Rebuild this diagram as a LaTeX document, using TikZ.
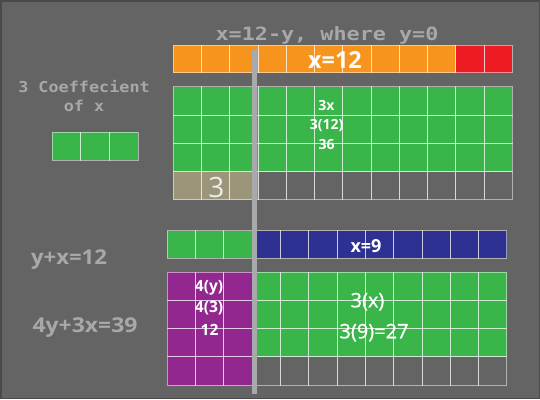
\documentclass[tikz,border=0pt]{standalone}
\usepackage{fontspec}
\setmainfont{Open Sans}
\newfontfamily\monob{DejaVu Sans Mono}
\newfontfamily\osmed[FakeBold=0.8]{Open Sans}
\definecolor{bgc}{HTML}{646464}
\definecolor{framec}{HTML}{4A4A4A}
\definecolor{orangec}{HTML}{F7941D}
\definecolor{redc}{HTML}{ED1C24}
\definecolor{greenc}{HTML}{39B54A}
\definecolor{bluec}{HTML}{2E3192}
\definecolor{purplec}{HTML}{92278F}
\definecolor{tanc}{HTML}{9B9579}
\definecolor{linegray}{HTML}{A7A9AC}
\definecolor{textgray}{HTML}{A8A8A8}
\begin{document}
\begin{tikzpicture}[x=1pt,y=-1pt,
  cell/.style={draw=white,draw opacity=0.5,line width=1pt},
  graytxt/.style={text=textgray,anchor=base,inner sep=0pt},
  whitetxt/.style={text=white,anchor=base,inner sep=0pt}]
\useasboundingbox (0,0) rectangle (540,399);
\fill[bgc] (0,0) rectangle (540,399);
\draw[framec,line width=1.5pt] (0.75,0.75) rectangle (539.25,398.25);

% top orange bar
\fill[orangec] (173.3,45) rectangle (512.3,72.7);
\fill[redc] (455.8,45) rectangle (512.3,72.7);
\foreach \i in {0,...,11} \draw[cell] ({173.3+\i*28.25},45) rectangle ++(28.25,27.7);

% top green block
\fill[greenc] (173.3,86.7) rectangle (512.3,171.6);
\fill[tanc] (173.3,171.6) rectangle (258.05,199.9);
\foreach \i in {0,...,11} \foreach \j in {0,...,3}
  \draw[cell] ({173.3+\i*28.25},{86.7+\j*28.3}) rectangle ++(28.25,28.3);

% left small bar
\fill[greenc] (52,132.3) rectangle (138,160);
\foreach \i in {0,1,2} \draw[cell] ({52+\i*28.67},132.3) rectangle ++(28.67,27.7);

% bottom bar
\fill[greenc] (167.3,230.7) rectangle (252.2,258.3);
\fill[bluec] (252.2,230.7) rectangle (506.9,258.3);
\foreach \i in {0,...,11} \draw[cell] ({167.3+\i*28.3},230.7) rectangle ++(28.3,27.6);

% bottom block
\fill[purplec] (167.3,272) rectangle (252.2,385.2);
\fill[greenc] (252.2,272) rectangle (506.9,356.9);
\foreach \i in {0,...,11} \foreach \j in {0,...,3}
  \draw[cell] ({167.3+\i*28.3},{272+\j*28.3}) rectangle ++(28.3,28.3);

% vertical divider
\coordinate (vtop) at (254.5,50);
\coordinate (vbot) at (254.5,394);
\draw[linegray,line width=5pt] (vtop) -- (vbot);

% texts
\node[graytxt,font={\monob\bfseries\fontsize{18.3}{20}\selectfont}] (title) at (327,40) {\scalebox{1.19}[1]{x=12-y, where y=0}};
\node[graytxt,font={\monob\bfseries\fontsize{15}{17}\selectfont}] (coef1) at (84,92.7) {\scalebox{1.12}[1]{3 Coeffecient}};
\node[graytxt,font={\monob\bfseries\fontsize{15}{17}\selectfont}] (coef2) at (84,111) {\scalebox{1.12}[1]{of x}};

\node[whitetxt,font={\bfseries\fontsize{23.4}{26}\selectfont}] (x12) at (335,68.3) {x=12};
\node[whitetxt,font={\bfseries\fontsize{14}{16}\selectfont}] (t3x) at (326.5,110) {3x};
\node[whitetxt,font={\bfseries\fontsize{14}{16}\selectfont}] (t312) at (326.5,129.3) {3(12)};
\node[whitetxt,font={\bfseries\fontsize{14}{16}\selectfont}] (t36) at (326.5,149.3) {36};
\node[whitetxt,text=white!93!black,font={\fontsize{28}{30}\selectfont}] (tthree) at (216.5,197) {3};

\node[whitetxt,font={\bfseries\fontsize{18}{20}\selectfont}] (x9) at (366,252) {x=9};
\node[whitetxt,font={\bfseries\fontsize{15.5}{17}\selectfont}] (t4y) at (209,291.7) {4(y)};
\node[whitetxt,font={\bfseries\fontsize{15.5}{17}\selectfont}] (t43) at (209,312) {4(3)};
\node[whitetxt,font={\bfseries\fontsize{15.5}{17}\selectfont}] (t12) at (209.5,335) {12};
\node[whitetxt,font={\osmed\fontsize{20}{22}\selectfont}] (t3xb) at (367.5,307.3) {3(x)};
\node[whitetxt,font={\osmed\fontsize{20}{22}\selectfont}] (t927) at (374,338.3) {3(9)=27};

\node[graytxt,font={\bfseries\fontsize{20.5}{23}\selectfont}] (eq1) at (69,264.3) {\scalebox{1.08}[1]{y+x=12}};
\node[graytxt,font={\bfseries\fontsize{20.5}{23}\selectfont}] (eq2) at (85,332.3) {\scalebox{1.12}[1]{4y+3x=39}};
\end{tikzpicture}
\end{document}
